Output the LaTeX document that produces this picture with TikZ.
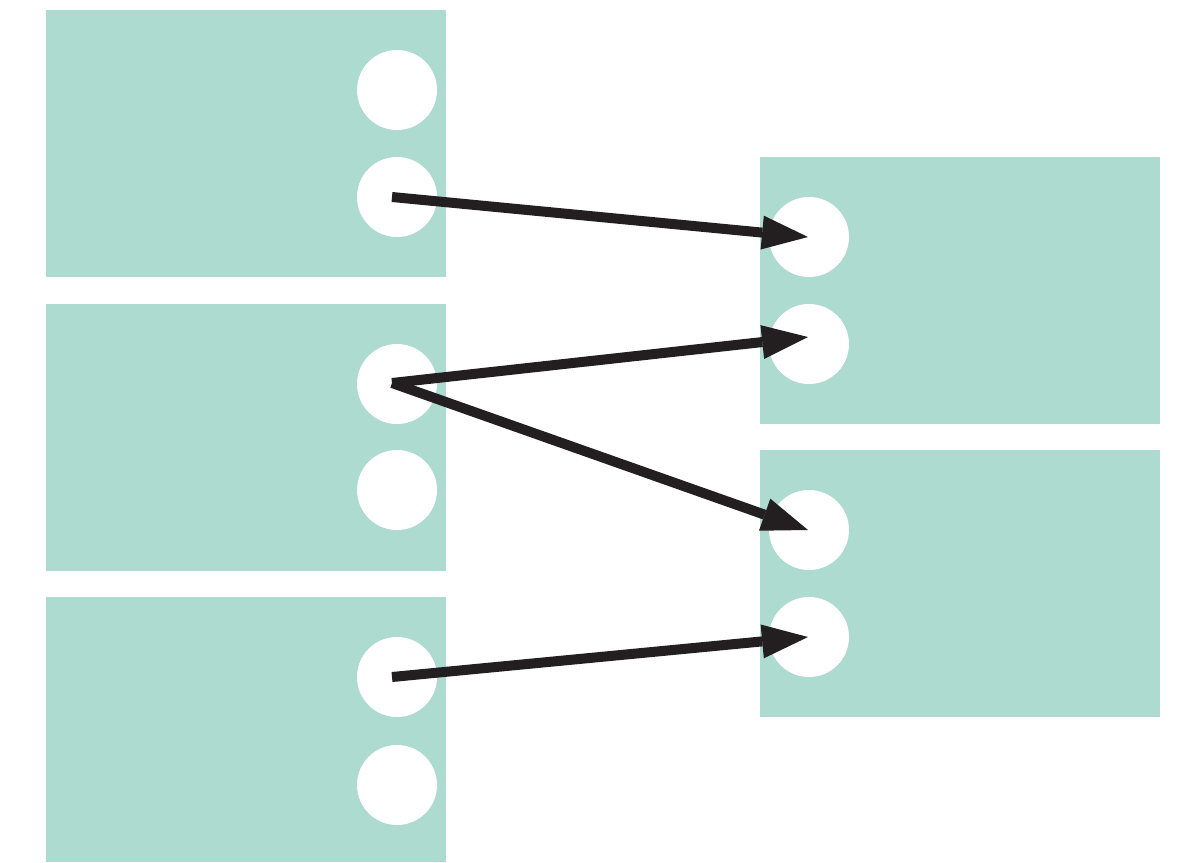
\documentclass[tikz,border=0pt]{standalone}
\usetikzlibrary{arrows.meta}
\definecolor{boxfill}{HTML}{AEDBCF}
\definecolor{arrowcol}{HTML}{231F20}
\begin{document}
\begin{tikzpicture}[x=1pt,y=-1pt,
  panel/.style={rectangle,fill=boxfill,draw=none,minimum width=400pt,minimum height=267pt,inner sep=0pt,outer sep=0pt},
  port/.style={circle,fill=white,draw=none,minimum size=80pt,inner sep=0pt,outer sep=0pt},
  link/.style={draw=arrowcol,line width=10pt,-{Triangle[length=46pt,width=34pt,line width'=0pt]}}]
\useasboundingbox (0,0) rectangle (1183,862);
\fill[white] (0,0) rectangle (1183,862);
% left panels
\node[panel] (L1) at (246,143.5) {};
\node[panel] (L2) at (246,437.5) {};
\node[panel, minimum height=265pt] (L3) at (246,729.5) {};
% right panels
\node[panel] (R1) at (960,290.5) {};
\node[panel] (R2) at (960,583.5) {};
% ports
\node[port] (L1a) at (397,90) {};
\node[port] (L1b) at (397,197) {};
\node[port] (L2a) at (397,384) {};
\node[port] (L2b) at (397,490) {};
\node[port] (L3a) at (397,677) {};
\node[port] (L3b) at (397,785) {};
\node[port] (R1a) at (809,237) {};
\node[port] (R1b) at (809,344) {};
\node[port] (R2a) at (809,530) {};
\node[port] (R2b) at (809,637) {};
% connectors
\draw[link] ([xshift=-5pt]L1b.center) -- ([xshift=-1pt]R1a.center);
\draw[link] ([xshift=-5pt,yshift=1pt]L2a.center) -- ([xshift=-1pt,yshift=7pt]R1b.center);
\draw[link] ([xshift=-5pt,yshift=1pt]L2a.center) -- ([xshift=-1pt]R2a.center);
\draw[link] ([xshift=-5pt]L3a.center) -- ([xshift=-1pt]R2b.center);
\end{tikzpicture}
\end{document}
